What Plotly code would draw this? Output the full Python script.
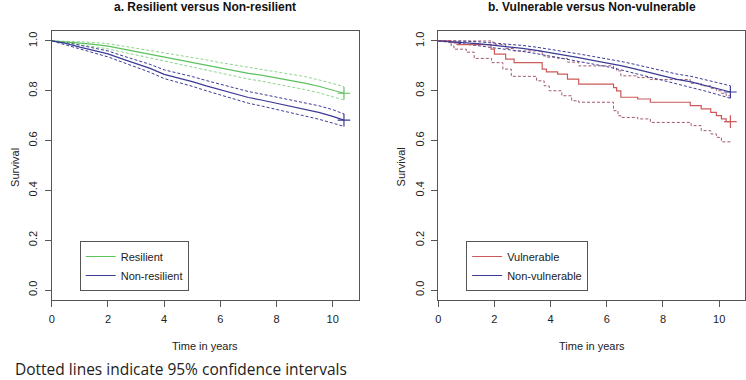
import plotly.graph_objects as go

# ---------------- Data ----------------
# Panel a: Resilient vs Non-resilient
t_a = [0, 0.5, 1.0, 1.5, 2.0, 2.5, 3.0, 3.5, 4.0, 4.5, 5.0, 5.5, 6.0, 6.5, 7.0, 7.5, 8.0, 8.5, 9.0, 9.5, 10.0, 10.4]
res_s = [1.0, 0.997, 0.991, 0.986, 0.979, 0.968, 0.957, 0.945, 0.935, 0.926, 0.915, 0.904, 0.892, 0.882, 0.87, 0.862, 0.852, 0.843, 0.831, 0.818, 0.803, 0.79]
res_up = [1.0, 1.0, 0.997, 0.994, 0.989, 0.98, 0.971, 0.961, 0.952, 0.944, 0.934, 0.924, 0.913, 0.904, 0.893, 0.885, 0.876, 0.868, 0.857, 0.844, 0.83, 0.817]
res_lo = [1.0, 0.993, 0.984, 0.977, 0.968, 0.956, 0.943, 0.929, 0.918, 0.907, 0.895, 0.884, 0.871, 0.86, 0.847, 0.838, 0.828, 0.818, 0.805, 0.792, 0.776, 0.763]
nres_s = [1.0, 0.99, 0.975, 0.962, 0.948, 0.928, 0.908, 0.89, 0.866, 0.853, 0.837, 0.82, 0.804, 0.789, 0.773, 0.762, 0.75, 0.737, 0.726, 0.713, 0.697, 0.682]
nres_up = [1.0, 0.995, 0.983, 0.972, 0.96, 0.941, 0.923, 0.906, 0.884, 0.872, 0.857, 0.841, 0.826, 0.812, 0.797, 0.786, 0.775, 0.763, 0.752, 0.74, 0.724, 0.707]
nres_lo = [1.0, 0.985, 0.967, 0.952, 0.936, 0.915, 0.894, 0.874, 0.849, 0.835, 0.818, 0.8, 0.783, 0.767, 0.75, 0.738, 0.725, 0.712, 0.7, 0.686, 0.67, 0.657]

# Panel b: Vulnerable vs Non-vulnerable
t_nv = [0, 0.5, 1.0, 1.5, 2.0, 2.5, 3.0, 3.5, 4.0, 4.5, 5.0, 5.5, 6.0, 6.5, 7.0, 7.5, 8.0, 8.5, 9.0, 9.5, 10.0, 10.4]
nvul_s = [1.0, 0.997, 0.993, 0.988, 0.982, 0.977, 0.97, 0.962, 0.953, 0.943, 0.933, 0.922, 0.913, 0.901, 0.888, 0.873, 0.859, 0.846, 0.836, 0.822, 0.807, 0.795]
nvul_up = [1.0, 1.0, 0.999, 0.996, 0.992, 0.988, 0.982, 0.975, 0.967, 0.958, 0.948, 0.938, 0.929, 0.918, 0.906, 0.892, 0.879, 0.867, 0.858, 0.845, 0.832, 0.82]
nvul_lo = [1.0, 0.994, 0.987, 0.98, 0.972, 0.966, 0.958, 0.949, 0.939, 0.928, 0.918, 0.906, 0.897, 0.884, 0.87, 0.854, 0.839, 0.825, 0.814, 0.799, 0.783, 0.77]

t_v = [0, 0.45, 0.67, 1.88, 2.0, 2.4, 2.7, 3.7, 3.85, 4.25, 4.6, 5.0, 6.24, 6.35, 6.5, 7.1, 7.55, 8.97, 9.36, 9.7, 9.9, 10.08, 10.25, 10.4]
vul_s = [1.0, 0.995, 0.985, 0.967, 0.947, 0.927, 0.913, 0.887, 0.876, 0.867, 0.847, 0.827, 0.813, 0.80, 0.774, 0.767, 0.754, 0.74, 0.727, 0.713, 0.70, 0.687, 0.676, 0.676]
vul_up = [1.0, 1.0, 1.0, 0.995, 0.985, 0.97, 0.96, 0.94, 0.935, 0.93, 0.915, 0.90, 0.89, 0.88, 0.86, 0.853, 0.845, 0.83, 0.82, 0.81, 0.80, 0.79, 0.78, 0.78]
t_vlo = [0, 0.46, 0.56, 1.0, 1.28, 1.9, 2.3, 2.6, 3.5, 3.77, 3.95, 4.4, 4.75, 5.0, 6.24, 6.4, 6.5, 7.1, 7.55, 9.0, 9.36, 9.7, 9.9, 10.08, 10.4]
vul_lo = [1.0, 0.98, 0.967, 0.955, 0.93, 0.913, 0.887, 0.858, 0.84, 0.82, 0.80, 0.78, 0.76, 0.754, 0.72, 0.70, 0.693, 0.687, 0.673, 0.66, 0.64, 0.627, 0.613, 0.595, 0.587]

x_ticks = [0, 2, 4, 6, 8, 10]
y_ticks = [0.0, 0.2, 0.4, 0.6, 0.8, 1.0]
y_ticklabels = ["0.0", "0.2", "0.4", "0.6", "0.8", "1.0"]

titles = ["a. Resilient versus Non-resilient", "b. Vulnerable versus Non-vulnerable"]
caption = "Dotted lines indicate 95% confidence intervals"

# ---------------- Styles ----------------
GREEN = "#5cc25c"
GREEN_CI = "#8fd48f"
BLUE = "#3b3b96"
BLUE_CI = "#3b3b96"
RED = "#cc5a5a"
RED_CI = "#a0596e"
DASH = "3px,2px"
FONT = "Liberation Sans, Arial, sans-serif"

W, H = 746, 380
fig = go.Figure()


def add_curve(t, s, color, name, xa, ya, legend, shape="linear", width=1.2):
    fig.add_trace(go.Scatter(x=t, y=s, mode="lines", line=dict(color=color, width=width, shape=shape),
                             name=name, xaxis=xa, yaxis=ya, legend=legend, showlegend=True,
                             hoverinfo="skip"))
    fig.add_trace(go.Scatter(x=[t[-1]], y=[s[-1]], mode="markers",
                             marker=dict(symbol="cross-thin-open", size=9, color=color,
                                         line=dict(color=color, width=1.2)),
                             xaxis=xa, yaxis=ya, showlegend=False, hoverinfo="skip"))


def add_ci(t, s, color, xa, ya, shape="linear"):
    fig.add_trace(go.Scatter(x=t, y=s, mode="lines", line=dict(color=color, width=1, shape=shape, dash=DASH),
                             xaxis=xa, yaxis=ya, showlegend=False, hoverinfo="skip"))


# Panel a
add_ci(t_a, res_up, GREEN_CI, "x", "y")
add_ci(t_a, res_lo, GREEN_CI, "x", "y")
add_ci(t_a, nres_up, BLUE_CI, "x", "y")
add_ci(t_a, nres_lo, BLUE_CI, "x", "y")
add_curve(t_a, res_s, GREEN, "Resilient", "x", "y", "legend")
add_curve(t_a, nres_s, BLUE, "Non-resilient", "x", "y", "legend")

# Panel b
add_ci(t_v, vul_up, RED_CI, "x2", "y2", shape="hv")
add_ci(t_vlo, vul_lo, RED_CI, "x2", "y2", shape="hv")
add_ci(t_nv, nvul_up, BLUE_CI, "x2", "y2")
add_ci(t_nv, nvul_lo, BLUE_CI, "x2", "y2")
add_curve(t_v, vul_s, RED, "Vulnerable", "x2", "y2", "legend2", shape="hv")
add_curve(t_nv, nvul_s, BLUE, "Non-vulnerable", "x2", "y2", "legend2")

# ---------------- Layout ----------------
left_px = [(49, 357), (437, 745)]
top_px, bot_px = 31, 300
ydom = [1 - bot_px / H, 1 - top_px / H]

axis_common = dict(showline=True, mirror=True, linecolor="#555", linewidth=1,
                   ticks="outside", ticklen=6, tickcolor="#555", tickwidth=1,
                   showgrid=False, zeroline=False,
                   tickfont=dict(family=FONT, size=11, color="#222"))

layout = dict(
    width=W, height=H,
    margin=dict(l=0, r=0, t=0, b=0),
    paper_bgcolor="white", plot_bgcolor="white",
    font=dict(family=FONT, size=11, color="#222"),
)
for i, (a, b) in enumerate(left_px):
    suf = "" if i == 0 else str(i + 1)
    layout["xaxis" + suf] = dict(domain=[a / W, b / W], range=[0, 10.92], tickvals=x_ticks,
                                 anchor="y" + suf, ticklabelstandoff=3, **axis_common)
    layout["yaxis" + suf] = dict(domain=ydom, range=[-0.04, 1.04], tickvals=y_ticks, ticktext=y_ticklabels,
                                 tickangle=-90, anchor="x" + suf, ticklabelstandoff=3, **axis_common)

legend_common = dict(bgcolor="white", bordercolor="#555", borderwidth=1,
                     font=dict(family=FONT, size=11, color="#222"),
                     yanchor="top", xanchor="left", tracegroupgap=0, itemwidth=30)
layout["legend"] = dict(x=77 / W, y=1 - 241 / H, **legend_common)
layout["legend2"] = dict(x=465 / W, y=1 - 241 / H, **legend_common)

fig.update_layout(**layout)

annotations = []
for i, (a, b) in enumerate(left_px):
    cx = (a + b) / 2
    annotations.append(dict(text="<b>" + titles[i] + "</b>", x=cx / W, y=1 - 7 / H, xref="paper", yref="paper",
                            showarrow=False, xanchor="center", yanchor="middle",
                            font=dict(family=FONT, size=12, color="#111")))
    annotations.append(dict(text="Time in years", x=cx / W, y=1 - 346 / H, xref="paper", yref="paper",
                            showarrow=False, xanchor="center", yanchor="middle",
                            font=dict(family=FONT, size=11, color="#222")))
    annotations.append(dict(text="Survival", x=(a - 37) / W, y=1 - 167 / H, xref="paper", yref="paper",
                            showarrow=False, xanchor="center", yanchor="middle", textangle=-90,
                            font=dict(family=FONT, size=11, color="#222")))
annotations.append(dict(text=caption, x=10 / W, y=1 - 369 / H, xref="paper", yref="paper",
                        showarrow=False, xanchor="left", yanchor="middle",
                        font=dict(family="Open Sans, sans-serif", size=15.5, color="#222")))
fig.update_layout(annotations=annotations)

fig.write_html("out.html", config={"displayModeBar": False},
               post_script="document.body.style.margin='0px';document.body.style.overflow='hidden';")
